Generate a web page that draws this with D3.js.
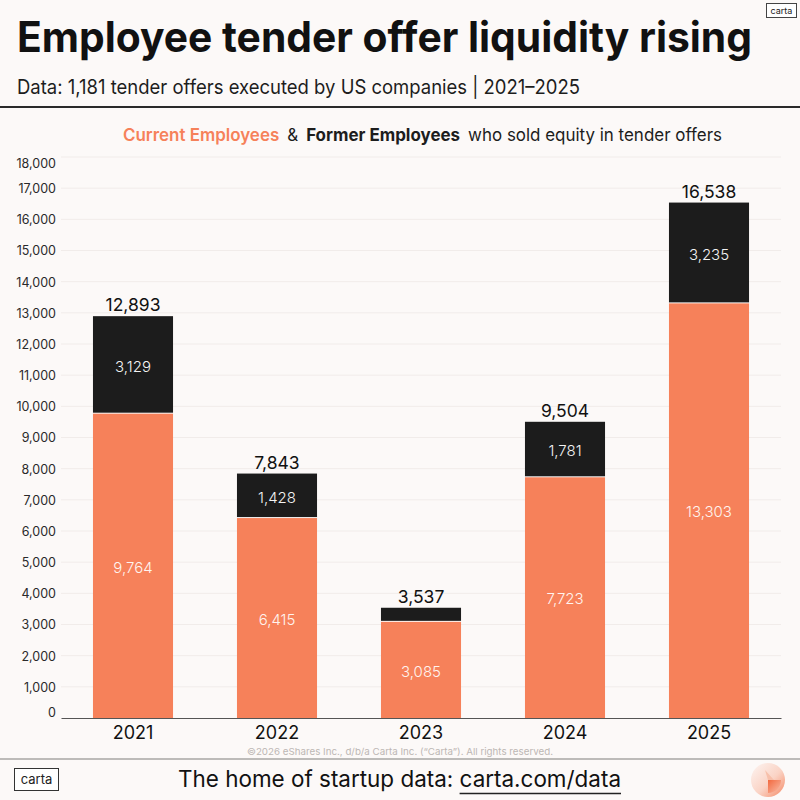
<!DOCTYPE html>
<html>
<head>
<meta charset="utf-8">
<script src="https://cdn.jsdelivr.net/npm/d3@7"></script>
<style>
  html, body { margin: 0; padding: 0; background: #fcf9f8; }
  svg { display: block; }
  text { font-family: Inter, "Noto Sans", sans-serif; }
</style>
</head>
<body>
<svg id="chart" width="800" height="800"></svg>
<script>
// ---- data ----
const years = ["2021", "2022", "2023", "2024", "2025"];
const currentEmployees = [9764, 6415, 3085, 7723, 13303];
const formerEmployees = [3129, 1428, 452, 1781, 3235];
const totals = [12893, 7843, 3537, 9504, 16538];
const yTickValues = [0, 1000, 2000, 3000, 4000, 5000, 6000, 7000, 8000, 9000,
  10000, 11000, 12000, 13000, 14000, 15000, 16000, 17000, 18000];

const titleText = "Employee tender offer liquidity rising";
const subtitleText = "Data: 1,181 tender offers executed by US companies | 2021\u20132025";
const copyrightText = "\u00A92026 eShares Inc., d/b/a Carta Inc. (\u201CCarta\u201D). All rights reserved.";
const legendParts = [
  { text: "Current Employees", weight: 600, color: "#f6815a" },
  { text: "&", weight: 400, color: "#1d1d1d" },
  { text: "Former Employees", weight: 700, color: "#1d1d1d" },
  { text: "who sold equity in tender offers", weight: 400, color: "#1d1d1d" }
];

// ---- styles ----
const BG = "#fcf9f8";
const ORANGE = "#f6815a";
const BLACK = "#1c1c1c";
const fmt = d3.format(",");

const svg = d3.select("#chart");
svg.append("rect").attr("width", 800).attr("height", 800).attr("fill", BG);

// ---- header ----
svg.append("text")
  .attr("x", 17).attr("y", 52)
  .attr("font-size", 42).attr("font-weight", 700).attr("fill", "#111")
  .attr("textLength", 735).attr("lengthAdjust", "spacingAndGlyphs")
  .text(titleText);

svg.append("text")
  .attr("x", 17).attr("y", 94)
  .attr("font-size", 20).attr("font-weight", 400).attr("fill", "#1d1d1d")
  .attr("textLength", 563).attr("lengthAdjust", "spacingAndGlyphs")
  .text(subtitleText);

svg.append("line").attr("x1", 0).attr("x2", 800).attr("y1", 107).attr("y2", 107)
  .attr("stroke", "#2a2a2a").attr("stroke-width", 2);

// top-right logo
svg.append("rect").attr("x", 766.5).attr("y", 3.5).attr("width", 30).attr("height", 14)
  .attr("fill", "#fff").attr("stroke", "#444").attr("stroke-width", 1);
svg.append("text").attr("x", 781.5).attr("y", 13.5).attr("text-anchor", "middle")
  .attr("font-size", 9).attr("fill", "#222").text("carta");

// legend line: separate pieces laid out left to right, fitted to the reference span
(function legendLine() {
  const startX = 123, targetW = 599, gap = 8, fs = 17.5, baseY = 141;
  const nodes = legendParts.map(p => svg.append("text")
    .attr("y", baseY).attr("font-size", fs).attr("font-weight", p.weight)
    .attr("fill", p.color).text(p.text));
  const widths = nodes.map(n => n.node().getComputedTextLength());
  const gaps = gap * (widths.length - 1);
  const s = (targetW - gaps) / d3.sum(widths);
  let cx = startX;
  nodes.forEach((n, i) => {
    const w = widths[i] * s;
    n.attr("x", cx).attr("textLength", w).attr("lengthAdjust", "spacingAndGlyphs");
    cx += w + gap;
  });
})();

// ---- chart ----
const x = d3.scaleBand().domain(years).range([61, 781]).paddingInner(0.444).paddingOuter(0.222);
const y = d3.scaleLinear().domain([0, 18000]).range([718, 157]);

// gridlines
svg.append("g").selectAll("line").data(yTickValues.filter(d => d > 0)).join("line")
  .attr("x1", 61).attr("x2", 781)
  .attr("y1", d => y(d)).attr("y2", d => y(d))
  .attr("stroke", "#f1ecea").attr("stroke-width", 1);

// y-axis labels
const yAxis = d3.axisLeft(y).tickValues(yTickValues).tickFormat(fmt).tickSize(0).tickPadding(0);
const yg = svg.append("g").attr("transform", "translate(56,0)").call(yAxis);
yg.select(".domain").remove();
yg.selectAll("text")
  .attr("font-family", "Inter, sans-serif").attr("font-size", 12.5).attr("fill", "#2a2a2a")
  .attr("dy", d => d === 0 ? "-0.1em" : d === 18000 ? "0.85em" : "0.35em");

// bars
const idx = d3.range(years.length);
const bars = svg.append("g");
bars.selectAll("rect.cur").data(idx).join("rect").attr("class", "cur")
  .attr("x", i => x(years[i])).attr("width", x.bandwidth())
  .attr("y", i => y(currentEmployees[i]))
  .attr("height", i => y(0) - y(currentEmployees[i]))
  .attr("fill", ORANGE);
bars.selectAll("rect.fmr").data(idx).join("rect").attr("class", "fmr")
  .attr("x", i => x(years[i])).attr("width", x.bandwidth())
  .attr("y", i => y(currentEmployees[i] + formerEmployees[i]))
  .attr("height", i => y(currentEmployees[i]) - y(currentEmployees[i] + formerEmployees[i]) - 1)
  .attr("fill", BLACK);

// inner labels
bars.selectAll("text.curl").data(idx).join("text").attr("class", "curl")
  .attr("x", i => x(years[i]) + x.bandwidth() / 2)
  .attr("y", i => (y(0) + y(currentEmployees[i])) / 2)
  .attr("dy", "0.45em").attr("text-anchor", "middle")
  .attr("font-size", 15).attr("font-weight", 300).attr("fill", "#fff4ef").text(i => fmt(currentEmployees[i]));
bars.selectAll("text.fmrl").data(idx.filter(i => formerEmployees[i] >= 1000)).join("text").attr("class", "fmrl")
  .attr("x", i => x(years[i]) + x.bandwidth() / 2)
  .attr("y", i => (y(currentEmployees[i]) + y(currentEmployees[i] + formerEmployees[i])) / 2)
  .attr("dy", "0.45em").attr("text-anchor", "middle")
  .attr("font-size", 15).attr("font-weight", 300).attr("fill", "#f3f3f3").text(i => fmt(formerEmployees[i]));

// total labels
bars.selectAll("text.tot").data(idx).join("text").attr("class", "tot")
  .attr("x", i => x(years[i]) + x.bandwidth() / 2)
  .attr("y", i => y(totals[i]) - 5)
  .attr("text-anchor", "middle")
  .attr("font-size", 17.5).attr("fill", "#111").text(i => fmt(totals[i]));

// x axis
const xAxis = d3.axisBottom(x).tickSize(0).tickPadding(0);
const xg = svg.append("g").attr("transform", `translate(0,${y(0)})`).call(xAxis);
xg.select(".domain").attr("stroke", "#555").attr("stroke-width", 1.2);
xg.selectAll("text")
  .attr("font-family", "Inter, sans-serif").attr("font-size", 18).attr("fill", "#111")
  .attr("dy", "1.15em");

// ---- footer ----
svg.append("text").attr("x", 400).attr("y", 755).attr("text-anchor", "middle")
  .attr("font-size", 9.5).attr("fill", "#bdb7b4")
  .attr("textLength", 306).attr("lengthAdjust", "spacingAndGlyphs")
  .text(copyrightText);

svg.append("line").attr("x1", 0).attr("x2", 800).attr("y1", 759).attr("y2", 759)
  .attr("stroke", "#a8a6a5").attr("stroke-width", 1.5);

const footerLead = "The home of startup data: ";
const footerLink = "carta.com/data";
const footer = svg.append("text").attr("x", 178).attr("y", 787)
  .attr("font-size", 22.5).attr("fill", "#111")
  .attr("textLength", 443).attr("lengthAdjust", "spacingAndGlyphs");
footer.append("tspan").text(footerLead);
footer.append("tspan").text(footerLink);
(function underline() {
  const n = footer.node();
  const start = footerLead.length;
  const end = footerLead.length + footerLink.length - 1;
  const x0 = n.getStartPositionOfChar(start).x;
  const x1 = n.getEndPositionOfChar(end).x;
  svg.append("line").attr("x1", x0).attr("x2", x1).attr("y1", 793.5).attr("y2", 793.5)
    .attr("stroke", "#222").attr("stroke-width", 1.3);
})();

// footer logo
svg.append("rect").attr("x", 14.5).attr("y", 768.5).attr("width", 44).attr("height", 22)
  .attr("fill", "#fff").attr("stroke", "#333").attr("stroke-width", 1);
svg.append("text").attr("x", 36.5).attr("y", 784).attr("text-anchor", "middle")
  .attr("font-size", 13).attr("fill", "#222").text("carta");

// gradient badge
const defs = svg.append("defs");
const g1 = defs.append("linearGradient").attr("id", "badge").attr("x1", "0%").attr("y1", "0%").attr("x2", "100%").attr("y2", "100%");
g1.append("stop").attr("offset", "0%").attr("stop-color", "#fdf5f2");
g1.append("stop").attr("offset", "55%").attr("stop-color", "#fad3c5");
g1.append("stop").attr("offset", "100%").attr("stop-color", "#f58762");
const g2 = defs.append("linearGradient").attr("id", "wedge").attr("x1", "0%").attr("y1", "0%").attr("x2", "100%").attr("y2", "100%");
g2.append("stop").attr("offset", "0%").attr("stop-color", "#f2693f");
g2.append("stop").attr("offset", "100%").attr("stop-color", "#f9bda7");
const badge = svg.append("g").attr("transform", "translate(768,780)");
badge.append("circle").attr("r", 17).attr("fill", "url(#badge)");
badge.append("path")
  .attr("d", d3.arc().innerRadius(0).outerRadius(13)({ startAngle: Math.PI / 2, endAngle: Math.PI }))
  .attr("fill", "url(#wedge)");
badge.append("path").attr("d", "M0,0 L-3,-10 L6,0 Z").attr("fill", "#f7c0ab");
</script>
</body>
</html>
